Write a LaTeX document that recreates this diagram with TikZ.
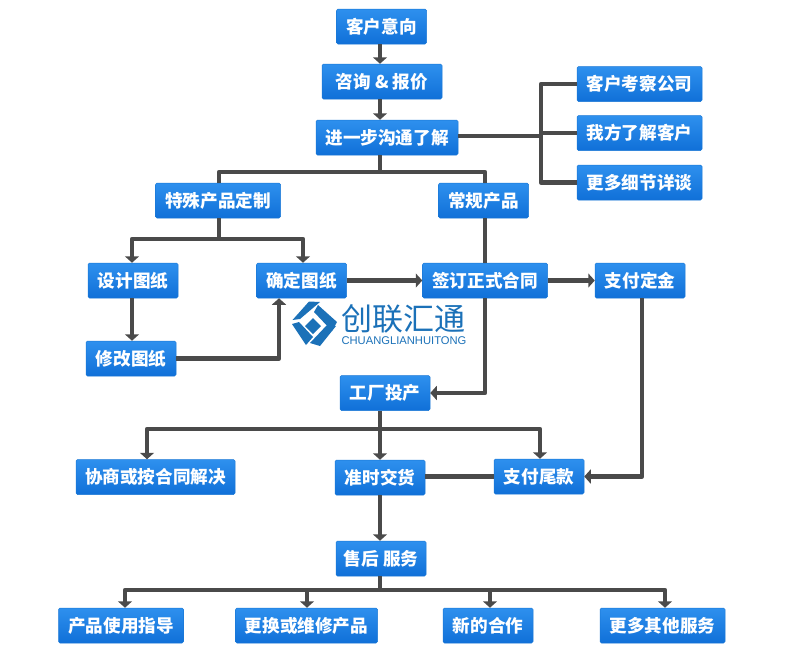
\documentclass[tikz,border=0pt]{standalone}
\usepackage{fontspec}
\setmainfont{Noto Sans CJK SC}
\newfontfamily\latinlogo{Liberation Sans}
\usetikzlibrary{arrows.meta}
\definecolor{boxtop}{HTML}{2E90EE}
\definecolor{boxbot}{HTML}{1070D8}
\definecolor{boxedge}{HTML}{1A78D6}
\definecolor{wire}{HTML}{4A4A4A}
\definecolor{logoblue}{HTML}{1B71B8}
\tikzset{
  x=1pt,y=-1pt,
  flow/.style={draw=boxedge,line width=0.5pt,rounded corners=1.5pt,top color=boxtop,bottom color=boxbot,
    text=white,font=\fontsize{17.6}{17.6}\selectfont\bfseries,inner sep=0pt,minimum height=35pt,align=center},
  w90/.style={flow,minimum width=90pt},
  w126/.style={flow,minimum width=125pt},
  w143/.style={flow,minimum width=142pt},
  link/.style={draw=wire,line width=4.8pt,line cap=butt,line join=round},
  arr/.style={link,-{Triangle[length=6.5pt,width=14pt]}},
  logopart/.style={fill=logoblue,draw=none},
}
\begin{document}
\begin{tikzpicture}
\useasboundingbox (0,0) rectangle (790,649);
% boxes
\node[w90] (a) at (381.5,26.5) {客户意向};
\node[flow,minimum width=120pt] (b) at (382,81.5) {咨询 \& 报价};
\node[w143] (c) at (387,137.5) {进一步沟通了解};
\node[w126] (r1) at (639.5,84) {客户考察公司};
\node[w126] (r2) at (639.5,133) {我方了解客户};
\node[w126] (r3) at (639.5,182.5) {更多细节详谈};
\node[w126] (s) at (218,200.5) {特殊产品定制};
\node[w90] (g) at (483.5,200.5) {常规产品};
\node[w90] (d1) at (133,280.5) {设计图纸};
\node[w90] (d2) at (301.5,280.5) {确定图纸};
\node[w126] (q) at (485,280.5) {签订正式合同};
\node[w90] (z) at (640,280.5) {支付定金};
\node[w90] (x) at (131,358.5) {修改图纸};
\node[w90] (f) at (385,393) {工厂投产};
\node[flow,minimum width=159pt] (h) at (155.5,477) {协商或按合同解决};
\node[w90] (j) at (380,477.5) {准时交货};
\node[w90] (k) at (539,476.5) {支付尾款};
\node[w90] (m) at (381,558.5) {售后 服务};
\node[w126] (p1) at (121,625.5) {产品使用指导};
\node[w143] (p2) at (306.5,625.5) {更换或维修产品};
\node[w90] (p3) at (488,625.5) {新的合作};
\node[w126] (p4) at (662.5,625.5) {更多其他服务};
% junctions
\coordinate (trunk) at (380,0);
\coordinate (rbus) at (541,136);
\coordinate (top1) at (0,172);
\coordinate (sbus) at (0,239);
\coordinate (sx) at (219,0);
\coordinate (sl) at (132,0);
\coordinate (sr) at (303,0);
\coordinate (gx) at (485,0);
\coordinate (xr) at (279,0);
\coordinate (fbus) at (0,429);
\coordinate (hx) at (147,0);
\coordinate (kx) at (540,0);
\coordinate (zx) at (642,0);
\coordinate (mbus) at (0,590);
\coordinate (t1) at (125,0);
\coordinate (t2) at (307,0);
\coordinate (t3) at (490,0);
\coordinate (t4) at (665,0);
% connectors
\draw[arr] (a.south -| trunk) -- (b.north -| trunk);
\draw[arr] (b.south -| trunk) -- (c.north -| trunk);
\draw[link] (c.east |- rbus) -- (rbus);
\draw[link] (r1.west) -| (rbus) |- (r3.west);
\draw[link] (rbus |- r2.west) -- (r2.west);
\draw[link] (c.south -| trunk) -- (trunk |- top1);
\draw[link] (s.north -| sx) |- (top1 -| gx) -- (g.north -| gx);
\draw[link] (s.south -| sx) -- (sx |- sbus);
\draw[arr] (sx |- sbus) -| (d1.north -| sl);
\draw[arr] (sx |- sbus) -| (d2.north -| sr);
\draw[arr] (d1.south -| sl) -- (x.north -| sl);
\draw[arr] (x.east) -| (d2.south -| xr);
\draw[arr] (d2.east) -- (q.west);
\draw[arr] (q.east) -- (z.west);
\draw[link] (g.south -| gx) -- (q.north -| gx);
\draw[arr] (q.south -| gx) |- (f.east);
\draw[arr] (z.south -| zx) |- (k.east);
\draw[arr] (f.south -| trunk) -- (j.north -| trunk);
\draw[arr] (trunk |- fbus) -| (h.north -| hx);
\draw[arr] (trunk |- fbus) -| (k.north -| kx);
\draw[link] (j.east |- k.west) -- (k.west);
\draw[arr] (j.south -| trunk) -- (m.north -| trunk);
\draw[link] (m.south -| trunk) -- (trunk |- mbus);
\draw[arr] (trunk |- mbus) -| (p1.north -| t1);
\draw[arr] (trunk |- mbus) -| (p2.north -| t2);
\draw[arr] (trunk |- mbus) -| (p3.north -| t3);
\draw[arr] (trunk |- mbus) -| (p4.north -| t4);
% logo
\fill[logopart] (292.5,320) -- (309,301.5) -- (320,302) -- (300,319) -- cycle;
\fill[logopart] (318,305) -- (337,322) -- (332,331) -- (314,312) -- cycle;
\fill[logopart] (310,343) -- (327,325) -- (336,326) -- (320,346) -- cycle;
\fill[logopart] (292,324) -- (299,322) -- (313,337) -- (306,345) -- cycle;
\fill[logopart] (313,318) -- (321,326) -- (313,334) -- (305,326) -- cycle;
\node[text=logoblue,font=\fontsize{31}{31}\selectfont,inner sep=0pt] (lg1) at (403,318.5) {创联汇通};
\node[text=logoblue,font=\latinlogo\fontsize{11.2}{11.2}\selectfont,inner sep=0pt] (lg2) at (404,341) {CHUANGLIANHUITONG};
\end{tikzpicture}
\end{document}
